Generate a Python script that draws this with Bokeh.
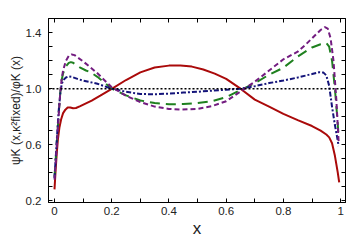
from bokeh.plotting import figure
from bokeh.models import FixedTicker, LinearAxis, Span
from bokeh.embed import file_html
from bokeh.resources import INLINE

# ---------------- data ----------------
x_red = [0, 0.004, 0.008, 0.012, 0.017, 0.023, 0.03, 0.038, 0.046, 0.055, 0.065, 0.075,
         0.09, 0.11, 0.13, 0.16, 0.2, 0.25, 0.3, 0.35, 0.4, 0.44, 0.48, 0.52, 0.56, 0.6,
         0.65, 0.7, 0.75, 0.8, 0.85, 0.9, 0.93, 0.95, 0.96, 0.97, 0.98, 0.99, 0.995]
y_red = [0.28, 0.42, 0.54, 0.64, 0.72, 0.78, 0.825, 0.85, 0.865, 0.866, 0.86, 0.862,
         0.875, 0.895, 0.915, 0.95, 0.998, 1.062, 1.117, 1.152, 1.165, 1.166, 1.158, 1.137,
         1.108, 1.07, 1.0, 0.922, 0.872, 0.82, 0.775, 0.733, 0.70, 0.672, 0.652, 0.61,
         0.52, 0.40, 0.33]

x_purple = [0, 0.005, 0.01, 0.015, 0.02, 0.025, 0.03, 0.04, 0.05, 0.06, 0.07, 0.08, 0.1,
            0.125, 0.15, 0.2, 0.25, 0.3, 0.35, 0.4, 0.44, 0.5, 0.55, 0.6, 0.65, 0.7, 0.75,
            0.8, 0.85, 0.88, 0.91, 0.93, 0.945, 0.955, 0.965, 0.975, 0.985, 0.993]
y_purple = [0.35, 0.50, 0.66, 0.82, 0.97, 1.07, 1.13, 1.2, 1.235, 1.245, 1.24, 1.225, 1.195,
            1.154, 1.11, 1.01, 0.95, 0.904, 0.872, 0.855, 0.85, 0.856, 0.875, 0.91, 0.98,
            1.05, 1.13, 1.21, 1.265, 1.32, 1.38, 1.42, 1.44, 1.43, 1.36, 1.2, 0.92, 0.62]

x_green = [0, 0.005, 0.01, 0.015, 0.02, 0.025, 0.03, 0.04, 0.05, 0.057, 0.065, 0.075, 0.09,
           0.11, 0.125, 0.15, 0.2, 0.25, 0.3, 0.35, 0.4, 0.45, 0.5, 0.55, 0.6, 0.65, 0.7,
           0.75, 0.8, 0.85, 0.9, 0.93, 0.95, 0.96, 0.97, 0.98, 0.988, 0.993]
y_green = [0.37, 0.52, 0.68, 0.83, 0.97, 1.06, 1.11, 1.16, 1.185, 1.19, 1.185, 1.172, 1.15,
           1.13, 1.119, 1.085, 1.0, 0.952, 0.916, 0.897, 0.889, 0.89, 0.898, 0.91, 0.94,
           0.99, 1.04, 1.1, 1.15, 1.23, 1.295, 1.318, 1.326, 1.3, 1.2, 1.0, 0.8, 0.66]

x_blue = [0, 0.005, 0.01, 0.015, 0.02, 0.025, 0.03, 0.04, 0.05, 0.06, 0.08, 0.1, 0.125,
          0.15, 0.2, 0.25, 0.3, 0.35, 0.4, 0.45, 0.5, 0.55, 0.6, 0.65, 0.7, 0.75, 0.8,
          0.85, 0.9, 0.925, 0.94, 0.95, 0.96, 0.97, 0.98, 0.988, 0.993]
y_blue = [0.36, 0.53, 0.70, 0.85, 0.96, 1.03, 1.06, 1.08, 1.088, 1.085, 1.07, 1.058, 1.047,
          1.035, 1.0, 0.978, 0.962, 0.96, 0.965, 0.972, 0.978, 0.986, 0.993, 1.0, 1.018,
          1.04, 1.058, 1.08, 1.105, 1.118, 1.115, 1.095, 1.02, 0.87, 0.74, 0.65, 0.59]

reference_level = 1.0

x_major = [0, 0.2, 0.4, 0.6, 0.8, 1]
x_minor = [0.1, 0.3, 0.5, 0.7, 0.9]
y_major = [0.2, 0.6, 1.0, 1.4]
y_minor = [0.3, 0.4, 0.5, 0.7, 0.8, 0.9, 1.1, 1.2, 1.3]

x_title = "x"
y_title = "ψK (x,κ²fixed)/φK (x)"

FONT = "Liberation Sans"
TXT = "#222222"
W, H = 349, 242

p = figure(width=W, height=H, x_range=(-0.021, 1.017), y_range=(0.186, 1.502),
           output_backend="svg", toolbar_location=None, title=None,
           min_border_left=48, min_border_right=4, min_border_top=18,
           min_border_bottom=40)
p.grid.visible = False
p.outline_line_color = "black"
p.outline_line_width = 1
p.background_fill_color = "white"
p.border_fill_color = "white"


def style_axis(ax, ticks, minor, show_labels):
    ax.ticker = FixedTicker(ticks=ticks, minor_ticks=minor)
    ax.major_tick_in = 4
    ax.major_tick_out = 0
    ax.minor_tick_in = 4
    ax.minor_tick_out = 0
    ax.axis_line_color = "black"
    ax.major_tick_line_color = "black"
    ax.minor_tick_line_color = "black"
    if show_labels:
        ax.major_label_text_font = FONT
        ax.major_label_text_font_size = "11.5px"
        ax.major_label_text_color = TXT
    else:
        ax.major_label_text_font_size = "1px"
        ax.major_label_text_color = None
        ax.major_label_standoff = 0


style_axis(p.xaxis[0], x_major, x_minor, True)
p.xaxis[0].major_label_standoff = 4
p.xaxis[0].major_label_overrides = {0: "0", 1: "1"}
p.xaxis[0].axis_label = x_title
p.xaxis[0].axis_label_text_font = FONT
p.xaxis[0].axis_label_text_font_size = "17px"
p.xaxis[0].axis_label_text_font_style = "normal"
p.xaxis[0].axis_label_text_color = TXT
p.xaxis[0].axis_label_standoff = 1

style_axis(p.yaxis[0], y_major, y_minor, True)
p.yaxis[0].major_label_standoff = 7
p.yaxis[0].major_label_overrides = {1.0: "1.0"}
p.yaxis[0].axis_label = y_title
p.yaxis[0].axis_label_text_font = FONT
p.yaxis[0].axis_label_text_font_size = "12px"
p.yaxis[0].axis_label_text_font_style = "normal"
p.yaxis[0].axis_label_text_color = TXT
p.yaxis[0].axis_label_standoff = 0

top = LinearAxis()
style_axis(top, x_major, x_minor, False)
p.add_layout(top, "above")
right = LinearAxis()
style_axis(right, y_major, y_minor, False)
p.add_layout(right, "right")

p.add_layout(Span(location=reference_level, dimension="width", line_color="black",
                  line_width=1.5, line_dash="2 2"))

p.line(x_red, y_red, line_color="#aa0a0a", line_width=2)
p.line(x_green, y_green, line_color="#1f801f", line_width=2, line_dash="10 6")
p.line(x_blue, y_blue, line_color="#14147a", line_width=2, line_dash="5 2 2 2")
p.line(x_purple, y_purple, line_color="#731c80", line_width=2, line_dash="5 3")

open("out.html", "w").write(file_html(p, INLINE))
